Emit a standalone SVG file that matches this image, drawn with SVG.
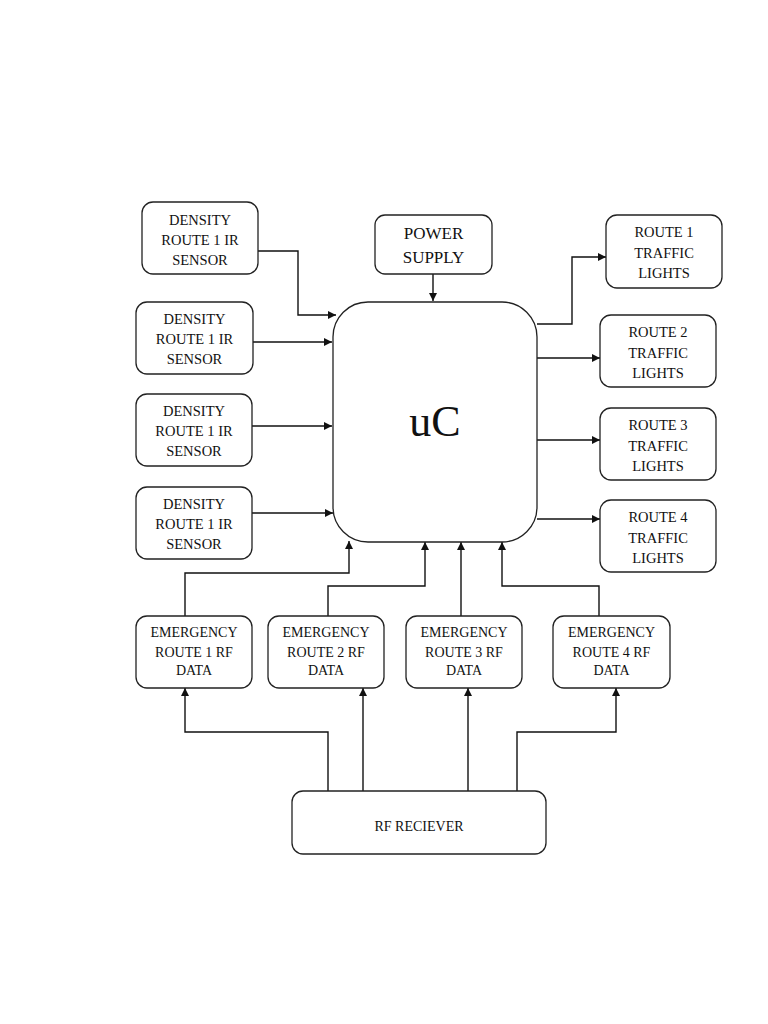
<svg xmlns="http://www.w3.org/2000/svg" width="768" height="1024" viewBox="0 0 768 1024">
<style>
.box{fill:#fff;stroke:#222;stroke-width:1.3}
.t{font-family:"Liberation Serif","Times New Roman",serif;font-size:14.5px;fill:#111;text-anchor:middle}
.e{font-size:14px}
.c{fill:none;stroke:#111;stroke-width:1.4}
</style>
<defs>
<marker id="ah" viewBox="0 0 10 10" refX="10" refY="5" markerWidth="8" markerHeight="8" markerUnits="userSpaceOnUse" orient="auto">
<path d="M0,0 L10,5 L0,10 Z" fill="#111"/>
</marker>
</defs>
<rect width="768" height="1024" fill="#fff"/>
<g id="connectors">
<path class="c" d="M258,251 H298 V315 H336" marker-end="url(#ah)"/>
<path class="c" d="M253,342 H332" marker-end="url(#ah)"/>
<path class="c" d="M252,426 H332" marker-end="url(#ah)"/>
<path class="c" d="M252,513 H333" marker-end="url(#ah)"/>
<path class="c" d="M433,274 V301" marker-end="url(#ah)"/>
<path class="c" d="M537,324 H572 V257 H606" marker-end="url(#ah)"/>
<path class="c" d="M537,358 H600" marker-end="url(#ah)"/>
<path class="c" d="M537,440 H600" marker-end="url(#ah)"/>
<path class="c" d="M537,519 H600" marker-end="url(#ah)"/>
<path class="c" d="M185,616 V573 H349 V541" marker-end="url(#ah)"/>
<path class="c" d="M328,616 V586 H425 V542" marker-end="url(#ah)"/>
<path class="c" d="M461,616 V542" marker-end="url(#ah)"/>
<path class="c" d="M599,616 V586 H502 V542" marker-end="url(#ah)"/>
<path class="c" d="M328,791 V732 H185 V688" marker-end="url(#ah)"/>
<path class="c" d="M363,791 V688" marker-end="url(#ah)"/>
<path class="c" d="M468,791 V688" marker-end="url(#ah)"/>
<path class="c" d="M517,791 V732 H616 V688" marker-end="url(#ah)"/>
</g>
<g id="density1"><rect class="box" x="142" y="202" width="116" height="72" rx="11"/>
<text class="t" x="200" y="224.5">DENSITY</text><text class="t" x="200" y="244.5">ROUTE 1 IR</text><text class="t" x="200" y="264.5">SENSOR</text></g>
<g id="density2"><rect class="box" x="136" y="302" width="117" height="72" rx="11"/>
<text class="t" x="194.5" y="324">DENSITY</text><text class="t" x="194.5" y="344">ROUTE 1 IR</text><text class="t" x="194.5" y="364">SENSOR</text></g>
<g id="density3"><rect class="box" x="136" y="394" width="116" height="72" rx="11"/>
<text class="t" x="194" y="416">DENSITY</text><text class="t" x="194" y="436">ROUTE 1 IR</text><text class="t" x="194" y="456">SENSOR</text></g>
<g id="density4"><rect class="box" x="136" y="487" width="116" height="72" rx="11"/>
<text class="t" x="194" y="509">DENSITY</text><text class="t" x="194" y="529">ROUTE 1 IR</text><text class="t" x="194" y="549">SENSOR</text></g>
<g id="power"><rect class="box" x="375" y="215" width="117" height="59" rx="10"/>
<text class="t" x="433.5" y="239" style="font-size:17px">POWER</text><text class="t" x="433.5" y="263" style="font-size:17px">SUPPLY</text></g>
<g id="uc"><rect class="box" x="333" y="302" width="204" height="240" rx="35"/>
<text class="t" x="435" y="436" style="font-size:44px">uC</text></g>
<g id="route1"><rect class="box" x="606" y="215" width="116" height="73" rx="11"/>
<text class="t" x="664" y="237">ROUTE 1</text><text class="t" x="664" y="257.5">TRAFFIC</text><text class="t" x="664" y="278">LIGHTS</text></g>
<g id="route2"><rect class="box" x="600" y="315" width="116" height="72" rx="11"/>
<text class="t" x="658" y="337">ROUTE 2</text><text class="t" x="658" y="357.5">TRAFFIC</text><text class="t" x="658" y="378">LIGHTS</text></g>
<g id="route3"><rect class="box" x="600" y="408" width="116" height="72" rx="11"/>
<text class="t" x="658" y="430">ROUTE 3</text><text class="t" x="658" y="450.5">TRAFFIC</text><text class="t" x="658" y="471">LIGHTS</text></g>
<g id="route4"><rect class="box" x="600" y="500" width="116" height="72" rx="11"/>
<text class="t" x="658" y="522">ROUTE 4</text><text class="t" x="658" y="542.5">TRAFFIC</text><text class="t" x="658" y="563">LIGHTS</text></g>
<g id="emergency1"><rect class="box" x="136" y="616" width="116" height="72" rx="11"/>
<text class="t e" x="194" y="637">EMERGENCY</text><text class="t e" x="194" y="656.5">ROUTE 1 RF</text><text class="t e" x="194" y="675">DATA</text></g>
<g id="emergency2"><rect class="box" x="268" y="616" width="116" height="72" rx="11"/>
<text class="t e" x="326" y="637">EMERGENCY</text><text class="t e" x="326" y="656.5">ROUTE 2 RF</text><text class="t e" x="326" y="675">DATA</text></g>
<g id="emergency3"><rect class="box" x="406" y="616" width="116" height="72" rx="11"/>
<text class="t e" x="464" y="637">EMERGENCY</text><text class="t e" x="464" y="656.5">ROUTE 3 RF</text><text class="t e" x="464" y="675">DATA</text></g>
<g id="emergency4"><rect class="box" x="553" y="616" width="117" height="72" rx="11"/>
<text class="t e" x="611.5" y="637">EMERGENCY</text><text class="t e" x="611.5" y="656.5">ROUTE 4 RF</text><text class="t e" x="611.5" y="675">DATA</text></g>
<g id="rfreceiver"><rect class="box" x="292" y="791" width="254" height="63" rx="11"/>
<text class="t e" x="419" y="831">RF RECIEVER</text></g>
</svg>
